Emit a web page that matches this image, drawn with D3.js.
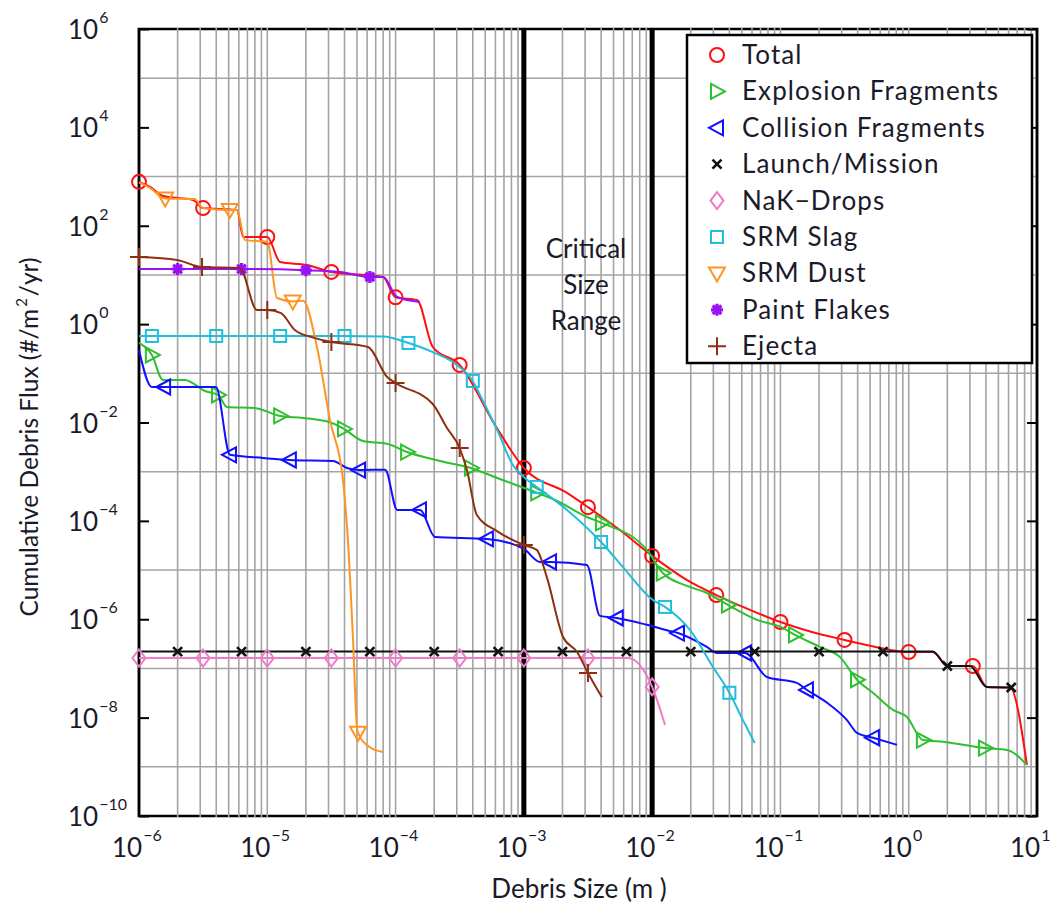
<!DOCTYPE html>
<html>
<head>
<meta charset="utf-8">
<script src="https://cdn.jsdelivr.net/npm/d3@7"></script>
<style>
  html, body { margin: 0; padding: 0; background: #fff; }
  svg { display: block; font-family: Lato, "Open Sans", sans-serif; }
</style>
</head>
<body>
<svg id="chart" width="1064" height="911"></svg>
<script>
// Cumulative debris flux by source, versus debris size.
// Each point is [size (m), flux (#/m^2/yr), marker flag].
const totalPts = [
  [1e-6, 780, 1], [1.22e-6, 616, 0], [1.54e-6, 403, 0], [2.64e-6, 334, 0],
  [3.16e-6, 229, 1], [5.8e-6, 209, 0], [6.5e-6, 59, 0], [1.0e-5, 59, 1],
  [1.26e-5, 18.3, 0], [2.04e-5, 15.9, 0], [3.16e-5, 11.5, 1], [8.0e-5, 9.1, 0],
  [1.0e-4, 3.5, 1], [1.47e-4, 3.1, 0], [1.95e-4, 0.343, 0], [3.16e-4, 0.148, 1],
  [5.96e-4, 8.9e-3, 0], [1.0e-3, 1.19e-3, 1], [2.17e-3, 3.7e-4, 0], [3.16e-3, 1.9e-4, 1],
  [5.6e-3, 6.5e-5, 0], [1.0e-2, 1.94e-5, 1], [1.86e-2, 6.3e-6, 0], [3.16e-2, 3.1e-6, 1],
  [5.8e-2, 1.55e-6, 0], [0.1, 8.8e-7, 1], [0.176, 5.5e-7, 0], [0.316, 3.8e-7, 1],
  [0.565, 2.7e-7, 0], [1.0, 2.15e-7, 1], [1.54, 2.15e-7, 0], [2.02, 1.12e-7, 0],
  [3.16, 1.12e-7, 1], [4.06, 4.2e-8, 0], [6.15, 4.1e-8, 0], [8.34, 1.1e-9, 0]
];
const explosionPts = [
  [1e-6, 0.414, 0], [1.26e-6, 0.236, 1], [1.54e-6, 0.073, 0], [2.28e-6, 0.073, 0],
  [3.27e-6, 0.0437, 0], [4.13e-6, 0.0363, 1], [4.85e-6, 0.0207, 0], [8.0e-6, 0.0197, 0],
  [1.26e-5, 0.0136, 1], [1.9e-5, 0.0124, 0], [3.19e-5, 0.0098, 0], [3.96e-5, 0.0074, 1],
  [5.57e-5, 0.0042, 0], [8.7e-5, 0.00366, 0], [1.23e-4, 0.00251, 1], [2.22e-4, 0.00165, 0],
  [3.87e-4, 0.00119, 1], [6.5e-4, 7.1e-4, 0], [1.27e-3, 3.7e-4, 1], [1.75e-3, 2.66e-4, 0],
  [3.1e-3, 1.2e-4, 0], [4.06e-3, 9.1e-5, 1], [9.1e-3, 2.57e-5, 0], [1.21e-2, 8.7e-6, 1],
  [1.97e-2, 4.55e-6, 0], [2.67e-2, 3.42e-6, 0], [3.9e-2, 1.95e-6, 1], [6.57e-2, 9.7e-7, 0],
  [0.1, 7.0e-7, 0], [0.13, 4.8e-7, 1], [0.203, 2.74e-7, 0], [0.291, 1.7e-7, 0],
  [0.395, 5.9e-8, 1], [0.526, 3.2e-8, 0], [0.753, 1.44e-8, 0], [0.968, 1.03e-8, 0],
  [1.29, 3.5e-9, 1], [1.91, 3.2e-9, 0], [3.93, 2.4e-9, 1], [5.82, 2.2e-9, 0], [8.34, 1.1e-9, 0]
];
const collisionPts = [
  [1e-6, 0.298, 0], [1.26e-6, 0.0527, 0], [1.57e-6, 0.0527, 1], [3.98e-6, 0.0527, 0],
  [5.12e-6, 2.2e-3, 1], [9.3e-6, 1.9e-3, 0], [1.5e-5, 1.73e-3, 1], [3.25e-5, 1.65e-3, 0],
  [4.18e-5, 1.19e-3, 0], [5.19e-5, 1.08e-3, 1], [8.3e-5, 1.1e-3, 0], [1.03e-4, 1.67e-4, 0],
  [1.55e-4, 1.67e-4, 1], [2.03e-4, 4.7e-5, 0], [5.15e-4, 4.3e-5, 1], [1.0e-3, 2.69e-5, 0],
  [1.34e-3, 1.46e-5, 0], [1.6e-3, 1.46e-5, 1], [3.1e-3, 1.27e-5, 0], [3.92e-3, 1.17e-6, 0],
  [5.3e-3, 1.06e-6, 1], [9.1e-3, 7.7e-7, 0], [1.3e-2, 6.0e-7, 0], [1.59e-2, 5.25e-7, 1],
  [2.67e-2, 2.74e-7, 0], [3.2e-2, 2.06e-7, 0], [5.3e-2, 2.06e-7, 1], [7.85e-2, 6.7e-8, 0],
  [0.134, 5.1e-8, 0], [0.161, 3.65e-8, 1], [0.231, 2.0e-8, 0], [0.33, 8.9e-9, 0],
  [0.395, 4.9e-9, 0], [0.526, 3.9e-9, 1], [0.81, 2.8e-9, 0]
];
const launchPts = [
  [1e-6, 2.2e-7, 0], [2e-6, 2.2e-7, 1], [6.3e-6, 2.2e-7, 1], [2e-5, 2.2e-7, 1],
  [6.3e-5, 2.2e-7, 1], [2e-4, 2.2e-7, 1], [6.3e-4, 2.2e-7, 1], [2e-3, 2.2e-7, 1],
  [6.3e-3, 2.2e-7, 1], [2e-2, 2.2e-7, 1], [6.3e-2, 2.2e-7, 1], [0.2, 2.2e-7, 1],
  [0.63, 2.2e-7, 1], [1.54, 2.2e-7, 0], [2.0, 1.12e-7, 1], [3.0, 1.12e-7, 0],
  [4.06, 4.2e-8, 0], [6.3, 4.1e-8, 1]
];
const nakPts = [
  [1e-6, 1.63e-7, 1], [3.16e-6, 1.63e-7, 1], [1e-5, 1.63e-7, 1], [3.16e-5, 1.63e-7, 1],
  [1e-4, 1.63e-7, 1], [3.16e-4, 1.63e-7, 1], [1e-3, 1.63e-7, 1], [3.16e-3, 1.63e-7, 1],
  [6.5e-3, 1.63e-7, 0], [1.0e-2, 4.2e-8, 1], [1.26e-2, 7.1e-9, 0]
];
const slagPts = [
  [1e-6, 0.574, 0], [1.26e-6, 0.574, 1], [4e-6, 0.574, 1], [1.26e-5, 0.574, 1],
  [4e-5, 0.574, 1], [8e-5, 0.56, 0], [1.26e-4, 0.414, 1], [1.95e-4, 0.27, 0],
  [3e-4, 0.148, 0], [4e-4, 0.07, 1], [4.55e-4, 0.0363, 0], [6.2e-4, 7.0e-3, 0],
  [8.2e-4, 1.37e-3, 0], [1.02e-3, 7.4e-4, 0], [1.26e-3, 4.9e-4, 1], [2.17e-3, 1.67e-4, 0],
  [4e-3, 3.72e-5, 1], [5.9e-3, 1.16e-5, 0], [1.01e-2, 2.47e-6, 0], [1.26e-2, 1.78e-6, 1],
  [1.97e-2, 6.05e-7, 0], [2.98e-2, 1.07e-7, 0], [4e-2, 3.2e-8, 1], [5.1e-2, 8.9e-9, 0],
  [6.3e-2, 3.05e-9, 0]
];
const dustPts = [
  [1e-6, 760, 0], [1.25e-6, 560, 0], [1.5e-6, 380, 0], [1.6e-6, 360, 1],
  [2.7e-6, 350, 0], [3.15e-6, 229, 0], [5.1e-6, 209, 1], [5.8e-6, 209, 0],
  [6.7e-6, 51, 0], [1e-5, 47, 0], [1.19e-5, 3.4, 0], [1.58e-5, 2.9, 1],
  [1.9e-5, 3.0, 0], [2.44e-5, 0.343, 0], [3.08e-5, 0.0112, 0], [3.89e-5, 6.8e-4, 0],
  [4.25e-5, 4.1e-5, 0], [4.66e-5, 3.8e-7, 0], [5.0e-5, 6.2e-9, 0], [5.1e-5, 4.9e-9, 1],
  [6.3e-5, 2.5e-9, 0], [8e-5, 2.0e-9, 0]
];
const paintPts = [
  [1e-6, 13.2, 0], [2e-6, 13.2, 1], [6.3e-6, 13.2, 1], [2e-5, 12.5, 1],
  [3.7e-5, 11.5, 0], [6.3e-5, 9.1, 1], [8e-5, 9.1, 0], [1.03e-4, 3.56, 0],
  [1.55e-4, 2.82, 0]
];
const ejectaPts = [
  [1e-6, 23.2, 1], [1.98e-6, 20.1, 0], [3.1e-6, 14.5, 1], [6.1e-6, 13.8, 0],
  [8.3e-6, 1.94, 0], [1.0e-5, 1.94, 1], [1.28e-5, 1.68, 0], [1.64e-5, 0.76, 0],
  [2.36e-5, 0.52, 0], [3.16e-5, 0.434, 1], [6.1e-5, 0.343, 0], [8.6e-5, 0.0842, 0],
  [1.0e-4, 0.0636, 1], [1.95e-4, 0.0238, 0], [2.51e-4, 7.8e-3, 0], [3.16e-4, 3.03e-3, 1],
  [3.6e-4, 1.08e-3, 0], [4.3e-4, 1.32e-4, 0], [6.17e-4, 6.2e-5, 0], [1.0e-3, 3.24e-5, 1],
  [1.26e-3, 2.57e-5, 0], [1.51e-3, 7.2e-6, 0], [2.02e-3, 4.36e-7, 0], [2.6e-3, 2.16e-7, 0],
  [3.16e-3, 8.1e-8, 1], [4.06e-3, 2.6e-8, 0]
];

const seriesNames = ["Total", "Explosion Fragments", "Collision Fragments", "Launch/Mission",
  "NaK\u2212Drops", "SRM Slag", "SRM Dust", "Paint Flakes", "Ejecta"];
const seriesData = [totalPts, explosionPts, collisionPts, launchPts, nakPts,
  slagPts, dustPts, paintPts, ejectaPts];
const seriesColors = ["#ff1010", "#2ec02e", "#1010ff", "#111111", "#f07ac6",
  "#20bedc", "#ff9422", "#9a10f8", "#8e2f12"];
const seriesMarkers = ["circle", "triRight", "triLeft", "cross", "diamond",
  "square", "triDown", "asterisk", "plus"];

const xTickExps = [-6, -5, -4, -3, -2, -1, 0, 1];
const yTickExps = [6, 4, 2, 0, -2, -4, -6, -8, -10];
const yGridExps = [5, 3, 1, -1, -3, -5, -7, -9];
const criticalRange = [1e-3, 1e-2];
const criticalLabel = ["Critical", "Size", "Range"];

const textColor = "#1a1a2a";
const svg = d3.select("#chart");
const plot = { left: 139, right: 1037, top: 29, bottom: 816 };
const x = d3.scaleLog().domain([1e-6, 10]).range([plot.left, plot.right]);
const y = d3.scaleLog().domain([1e-10, 1e6]).range([plot.bottom, plot.top]);

// Frame
svg.append("rect")
  .attr("x", plot.left).attr("y", plot.top)
  .attr("width", plot.right - plot.left).attr("height", plot.bottom - plot.top)
  .attr("fill", "#fff").attr("stroke", "#000").attr("stroke-width", 2.5);

// Grid: vertical lines at every 1..9 x 10^k, horizontal at odd decades
const gridX = [];
for (let k = -6; k <= 0; k++) for (let d = 1; d <= 9; d++) gridX.push(d * Math.pow(10, k));
const grid = svg.append("g").attr("stroke", "#a4a4a4").attr("stroke-width", 1.6);
grid.selectAll("line.v").data(gridX.filter(v => v > 1.0001e-6)).join("line")
  .attr("class", "v")
  .attr("x1", d => x(d)).attr("x2", d => x(d))
  .attr("y1", plot.top - 1).attr("y2", plot.bottom + 1);
grid.selectAll("line.h").data(yGridExps).join("line")
  .attr("class", "h")
  .attr("x1", plot.left + 1).attr("x2", plot.right - 1)
  .attr("y1", d => y(Math.pow(10, d))).attr("y2", d => y(Math.pow(10, d)));

// Side borders drawn over the grid
[plot.left, plot.right].forEach(px => {
  svg.append("line").attr("x1", px).attr("x2", px)
    .attr("y1", plot.top - 1).attr("y2", plot.bottom + 1)
    .attr("stroke", "#000").attr("stroke-width", 2.5);
});

// Inward ticks on left and right axes
const yTickVals = yTickExps.map(e => Math.pow(10, e));
const leftAxis = svg.append("g").attr("transform", `translate(${plot.left},0)`)
  .call(d3.axisLeft(y).tickValues(yTickVals).tickSize(-10).tickFormat(""));
const rightAxis = svg.append("g").attr("transform", `translate(${plot.right},0)`)
  .call(d3.axisRight(y).tickValues(yTickVals).tickSize(-10).tickFormat(""));
[leftAxis, rightAxis].forEach(g => {
  g.select(".domain").remove();
  g.selectAll(".tick line").attr("stroke", "#000").attr("stroke-width", 2);
});

// Critical size range boundaries
svg.append("g").selectAll("line").data(criticalRange).join("line")
  .attr("x1", d => x(d)).attr("x2", d => x(d))
  .attr("y1", plot.top - 1).attr("y2", plot.bottom + 1)
  .attr("stroke", "#000").attr("stroke-width", 5);

svg.append("g").attr("font-size", 26).attr("fill", textColor).attr("text-anchor", "middle")
  .selectAll("text").data(criticalLabel).join("text")
  .attr("x", (x(criticalRange[0]) + x(criticalRange[1])) / 2 - 2)
  .attr("y", (d, i) => 258 + i * 36)
  .text(d => d);

// Tick labels as 10 with a superscript exponent
function powerLabel(g, exp) {
  const t = g.append("text").attr("fill", textColor);
  t.append("tspan").attr("font-size", 26).text("10");
  t.append("tspan").attr("font-size", 16).attr("dy", -16).attr("dx", 1)
    .text(exp < 0 ? "\u2212" + Math.abs(exp) : String(exp));
  return t;
}
yTickExps.forEach(e => {
  const g = svg.append("g").attr("transform", `translate(68,${y(Math.pow(10, e)) + 10})`);
  powerLabel(g, e);
});
xTickExps.forEach(e => {
  const g = svg.append("g").attr("transform", `translate(${x(Math.pow(10, e)) - 27},857)`);
  powerLabel(g, e);
});

// Axis titles
svg.append("text").attr("x", 579).attr("y", 898)
  .attr("text-anchor", "middle").attr("font-size", 26).attr("fill", textColor)
  .text("Debris Size (m )");
const yTitle = svg.append("text").attr("transform", "translate(38,437) rotate(-90)")
  .attr("text-anchor", "middle").attr("font-size", 24.5).attr("fill", textColor);
yTitle.append("tspan").text("Cumulative Debris Flux (#/m");
yTitle.append("tspan").attr("font-size", 15).attr("dy", -11).attr("dx", 2).text("2");
yTitle.append("tspan").attr("dy", 11).attr("dx", 2).text("/yr)");

// Marker shapes
function drawMarker(g, type, color) {
  const style = sel => sel.attr("fill", "none").attr("stroke", color).attr("stroke-width", 2);
  switch (type) {
    case "circle": style(g.append("circle").attr("r", 7)); break;
    case "triRight": style(g.append("path").attr("d", "M-6,-7.5L8,0L-6,7.5Z")); break;
    case "triLeft": style(g.append("path").attr("d", "M6,-7.5L-8,0L6,7.5Z")); break;
    case "triDown": style(g.append("path").attr("d", "M-8,-6L8,-6L0,8Z")); break;
    case "square": style(g.append("rect").attr("x", -6).attr("y", -6).attr("width", 12).attr("height", 12)); break;
    case "diamond": style(g.append("path").attr("d", "M0,-8.5L6.5,0L0,8.5L-6.5,0Z")); break;
    case "cross": style(g.append("path").attr("d", "M-4.5,-4.5L4.5,4.5M-4.5,4.5L4.5,-4.5")).attr("stroke-width", 2.6); break;
    case "plus": style(g.append("path").attr("d", "M-9,0L9,0M0,-9L0,9")); break;
    case "asterisk":
      style(g.append("path").attr("d", "M-6,0L6,0M0,-6L0,6M-4.3,-4.3L4.3,4.3M-4.3,4.3L4.3,-4.3")).attr("stroke-width", 3.2);
      break;
  }
}

// Series lines and markers
const line = d3.line().x(d => x(d[0])).y(d => y(d[1])).curve(d3.curveMonotoneX);
const seriesG = svg.append("g");
seriesData.forEach((pts, i) => {
  const g = seriesG.append("g");
  g.append("path").datum(pts).attr("d", line)
    .attr("fill", "none").attr("stroke", seriesColors[i]).attr("stroke-width", 2)
    .attr("stroke-linejoin", "round");
  g.selectAll("g.m").data(pts.filter(p => p[2] === 1)).join("g")
    .attr("class", "m")
    .attr("transform", d => `translate(${x(d[0])},${y(d[1])})`)
    .each(function () { drawMarker(d3.select(this), seriesMarkers[i], seriesColors[i]); });
});

// Legend
const legend = svg.append("g");
legend.append("rect").attr("x", 687).attr("y", 35).attr("width", 345).attr("height", 328)
  .attr("fill", "#fff").attr("stroke", "#000").attr("stroke-width", 2.5);
seriesNames.forEach((name, i) => {
  const cy = 55 + i * 36.4;
  const mg = legend.append("g").attr("transform", `translate(717,${cy})`);
  drawMarker(mg, seriesMarkers[i], seriesColors[i]);
  legend.append("text").attr("x", 742).attr("y", cy + 9)
    .attr("font-size", 26).attr("letter-spacing", 1.1).attr("fill", textColor).text(name);
});
</script>
</body>
</html>
